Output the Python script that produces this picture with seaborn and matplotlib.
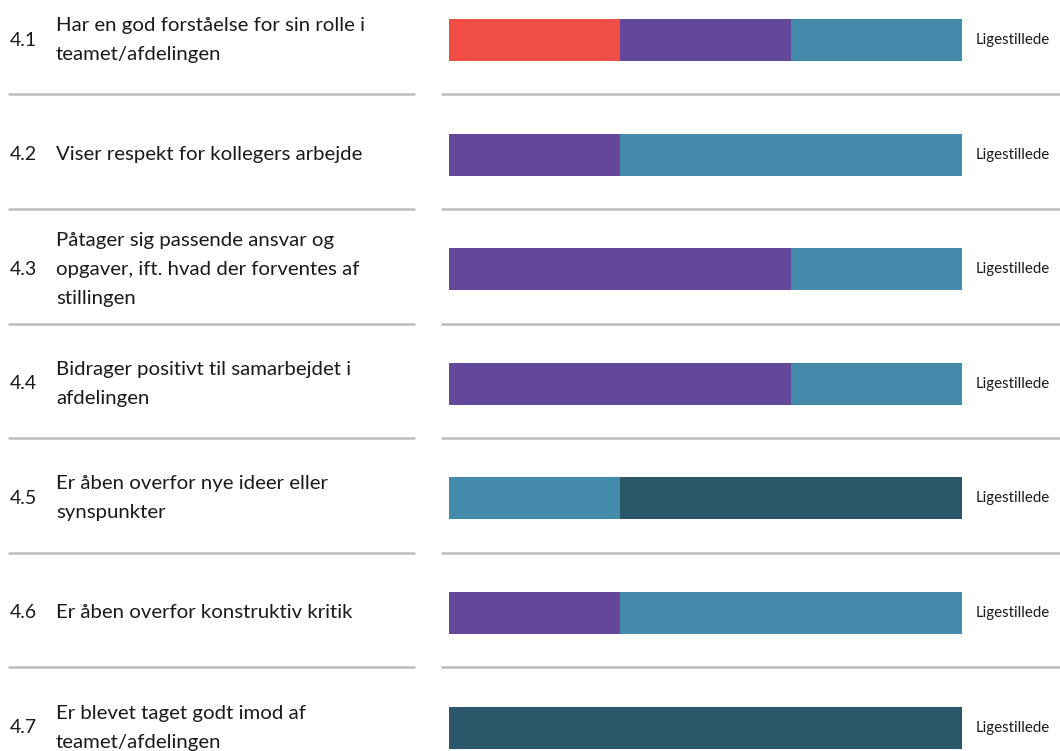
import matplotlib
matplotlib.use("Agg")
import matplotlib.pyplot as plt
import matplotlib.transforms as mtransforms
import seaborn as sns
import pandas as pd
import numpy as np

# ---- data ----
numbers = ["4.1", "4.2", "4.3", "4.4", "4.5", "4.6", "4.7"]
questions = [
    "Har en god forståelse for sin rolle i\nteamet/afdelingen",
    "Viser respekt for kollegers arbejde",
    "Påtager sig passende ansvar og\nopgaver, ift. hvad der forventes af\nstillingen",
    "Bidrager positivt til samarbejdet i\nafdelingen",
    "Er åben overfor nye ideer eller\nsynspunkter",
    "Er åben overfor konstruktiv kritik",
    "Er blevet taget godt imod af\nteamet/afdelingen",
]
group_label = "Ligestillede"
series_names = ["Rød", "Lilla", "Blå", "Mørkeblå"]
red = [1, 0, 0, 0, 0, 0, 0]
purple = [1, 1, 2, 2, 0, 1, 0]
blue = [1, 2, 1, 1, 1, 2, 0]
dark = [0, 0, 0, 0, 2, 0, 3]
colors = ["#F04E45", "#63479B", "#448AAA", "#2A5769"]

sns.set_theme(style="white")
plt.rcParams["font.family"] = ["Lato", "DejaVu Sans"]

W, H = 1060, 751
fig = plt.figure(figsize=(W / 100, H / 100), dpi=100)
fig.patch.set_facecolor("white")

row0, step = 40.0, 114.6
ytop = -row0 / step
ybot = (H - row0) / step
ax = fig.add_axes([449 / W, 0, (962 - 449) / W, 1])

series = np.array([red, purple, blue, dark], dtype=float)
totals = series.sum(axis=0)
pct = series / totals * 100
cum = np.cumsum(pct, axis=0)
cats = [f"r{i}" for i in range(len(numbers))]

# draw cumulative bars from the longest to the shortest
for k in range(3, -1, -1):
    df = pd.DataFrame({"cat": cats, "val": cum[k]})
    sns.barplot(data=df, x="val", y="cat", orient="h", color=colors[k],
                saturation=1, width=42 / step, ax=ax, linewidth=0)

ax.set_xlim(0, 100)
ax.set_ylim(ybot, ytop)
ax.axis("off")

trans_fig_data = mtransforms.blended_transform_factory(fig.transFigure, ax.transData)
for i in range(len(numbers)):
    ax.text(10 / W, i, numbers[i], transform=trans_fig_data, ha="left", va="center",
            fontsize=14, color="#1a1a1a")
    ax.text(56 / W, i, questions[i], transform=trans_fig_data, ha="left", va="center",
            fontsize=14.7, color="#1a1a1a", linespacing=1.85)
    ax.text(976 / W, i, group_label, transform=trans_fig_data, ha="left", va="center",
            fontsize=10.8, color="#1a1a1a")
    if i < len(numbers) - 1:
        ysep = i + 0.475
        for x0, x1 in [(8, 415), (441, 1060)]:
            ax.plot([x0 / W, x1 / W], [ysep, ysep], transform=trans_fig_data,
                    color="#BDBDBD", linewidth=1.8, clip_on=False, solid_capstyle="butt")

fig.savefig("out.png", dpi=100, facecolor="white")
